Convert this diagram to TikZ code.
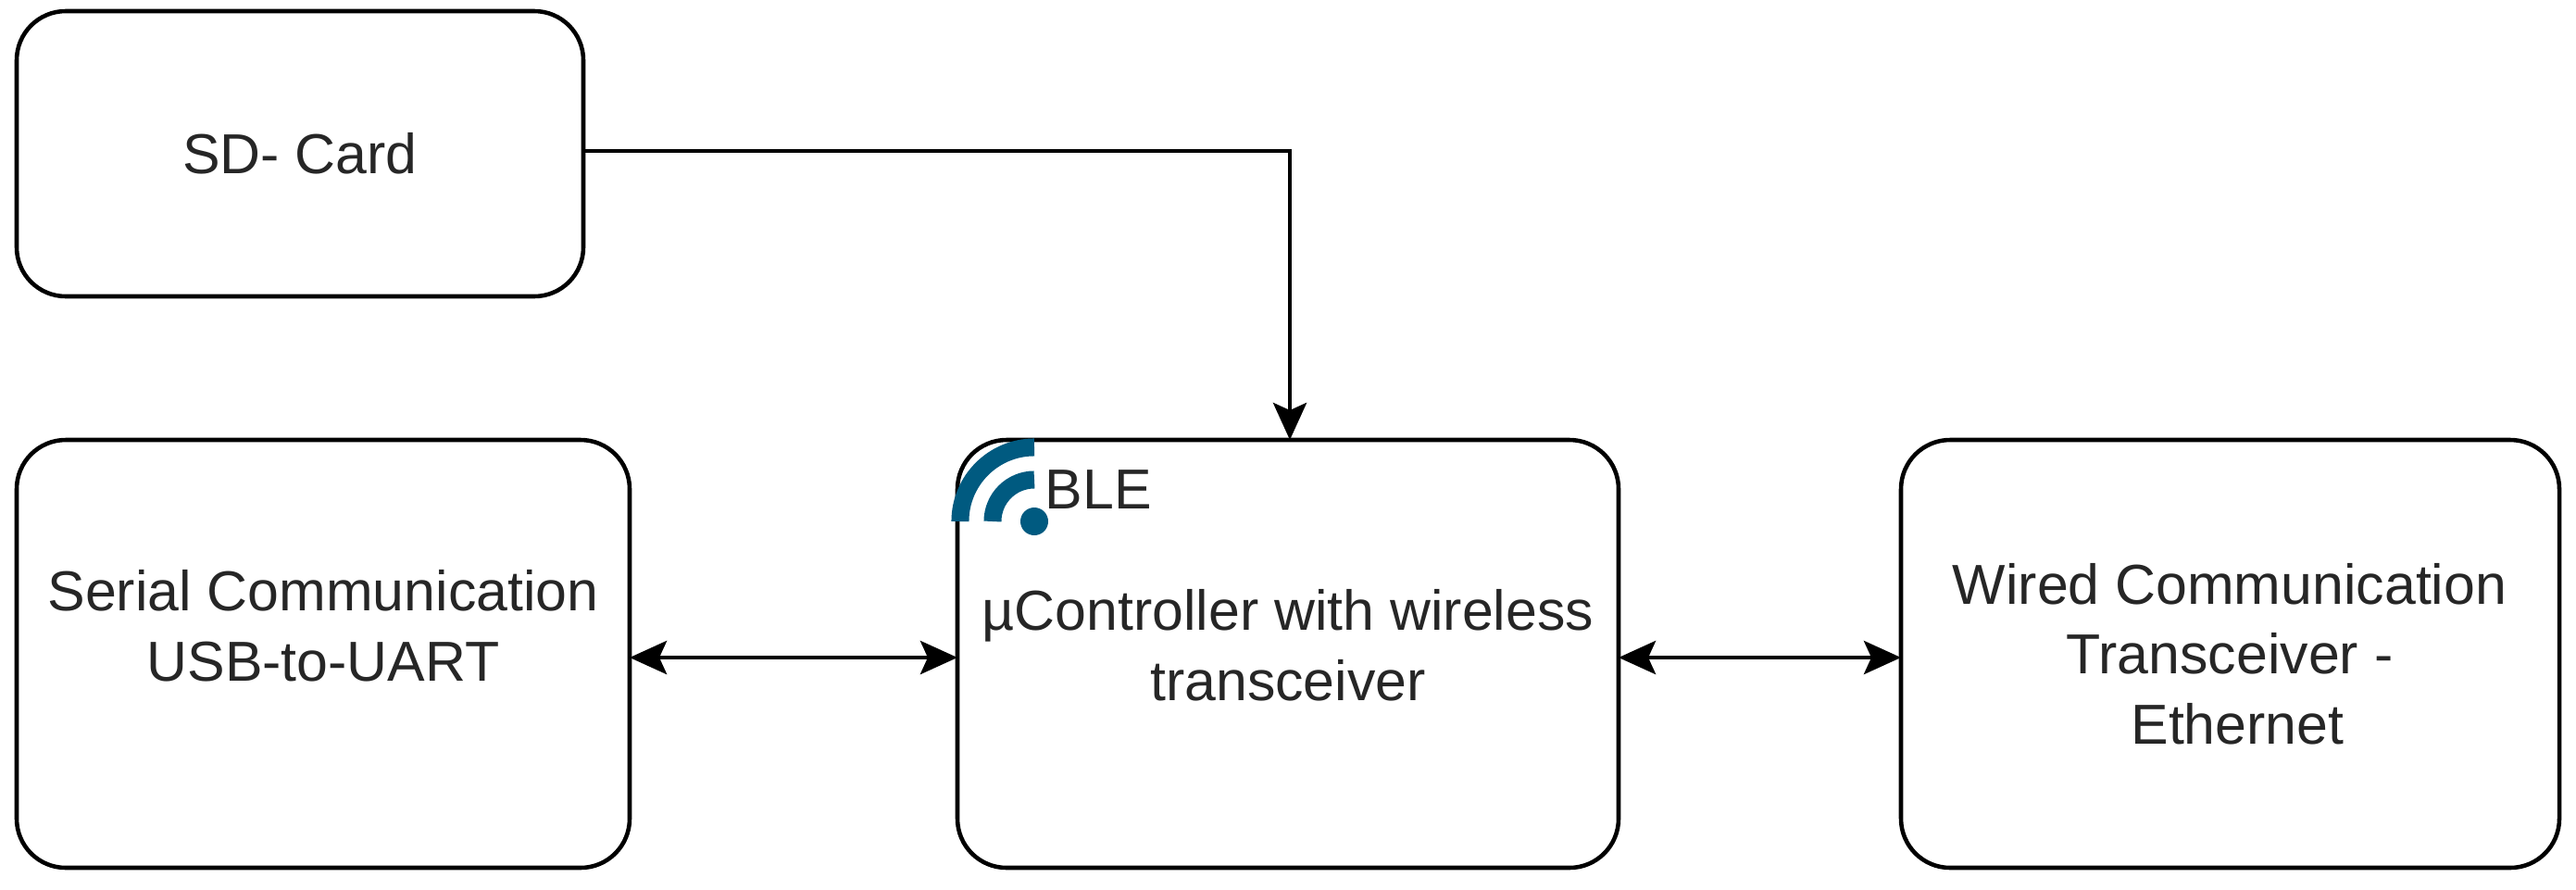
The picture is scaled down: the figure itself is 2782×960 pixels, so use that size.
\documentclass[tikz,border=0pt]{standalone}
\usepackage{fontspec}
\setmainfont{Liberation Sans}
\usetikzlibrary{arrows.meta}
\definecolor{blebl}{HTML}{005A80}
\begin{document}
\begin{tikzpicture}[x=0.01cm,y=-0.01cm,
  blk/.style={draw,line width=1.3pt,rounded corners=0.53cm,inner sep=0pt},
  lbl/.style={font=\fontsize{17.3}{21.5}\selectfont,text=black!85,align=center},
  tip/.style={Stealth[length=0.4cm,width=0.36cm,inset=0.08cm]},
  con/.style={line width=1.3pt,-{Stealth[length=0.4cm,width=0.36cm,inset=0.08cm]}},
  bcon/.style={line width=1.3pt,{Stealth[length=0.4cm,width=0.36cm,inset=0.08cm]}-{Stealth[length=0.4cm,width=0.36cm,inset=0.08cm]}}]
\useasboundingbox (0,0) rectangle (2782,960);
\draw[blk] (18,12) rectangle (630,320);
\node[lbl] (sd) at (324,166) {SD- Card};
\coordinate (sdE) at (630,163);
\draw[blk] (18,475) rectangle (680,937);
\node[lbl] (ser) at (349,676) {Serial Communication\\USB-to-UART};
\draw[blk] (1034,475) rectangle (1748,937);
\node[lbl] (uc) at (1391,697) {µController with wireless\\transceiver};
\draw[blk] (2053,475) rectangle (2764,937);
\node[lbl] (wir) at (2408,706) {Wired Communication\\Transceiver -\\\ Ethernet};
\coordinate (ucN) at (1393,475);
\coordinate (serE) at (680,710);
\coordinate (ucW) at (1034,710);
\coordinate (ucE) at (1748,710);
\coordinate (wirW) at (2053,710);
\draw[con] (sdE) -| (ucN);
\draw[bcon] (serE) -- (ucW);
\draw[bcon] (ucE) -- (wirW);
% BLE icon
\coordinate (dot) at (1117,563);
\fill[blebl] (dot) circle[radius=15];
\draw[blebl,line width=0.19cm] ([xshift=-0.45cm]dot) arc[start angle=180,end angle=90,radius=0.45cm];
\draw[blebl,line width=0.19cm] ([xshift=-0.8cm]dot) arc[start angle=180,end angle=90,radius=0.8cm];
\node[lbl,anchor=west,inner sep=0pt] (ble) at (1128,529) {BLE};
\end{tikzpicture}
\end{document}
